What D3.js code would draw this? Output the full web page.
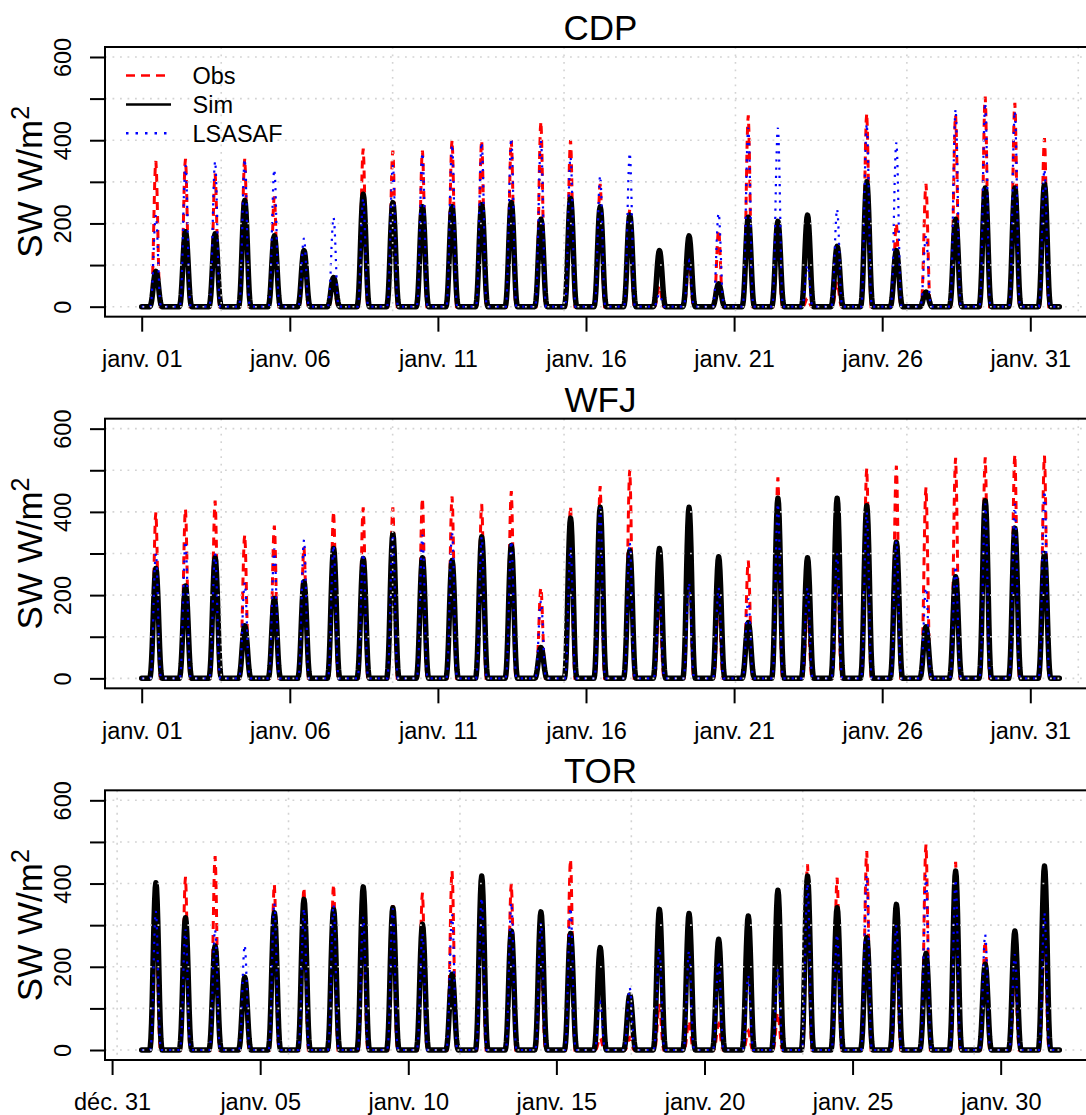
<!DOCTYPE html>
<html>
<head>
<meta charset="utf-8">
<script src="https://d3js.org/d3.v7.min.js"></script>
<style>
body { margin: 0; background: #fff; }
svg { display: block; font-family: "Liberation Sans", Arial, Helvetica, sans-serif; }
</style>
</head>
<body>
<div id="chart"></div>
<script>

// station names (one panel each)
var stations = ["CDP", "WFJ", "TOR"];

// daily peak shortwave (W/m2), janv. 01 .. janv. 31
var cdpObs = [350,355,320,355,265,130,60,380,375,375,400,400,400,445,400,295,235,50,120,185,460,200,20,60,465,200,295,460,505,490,405];
var cdpSim = [85,180,175,255,170,135,70,270,250,240,240,245,250,210,260,240,220,135,170,55,215,205,220,145,300,135,35,210,285,285,295];
var cdpLsa = [220,340,350,355,330,165,215,260,340,370,390,395,405,400,360,315,370,30,110,225,430,430,100,235,440,395,170,475,490,470,330];

var wfjObs = [399,407,427,345,367,315,401,411,411,433,437,419,450,218,413,462,501,200,380,200,283,483,180,300,505,511,459,530,531,538,535];
var wfjSim = [264,222,290,126,192,232,312,288,347,290,283,340,319,74,385,411,307,312,411,292,134,433,290,433,415,327,124,244,427,361,300];
var wfjLsa = [300,330,300,230,312,333,320,300,345,345,352,340,330,186,314,410,327,206,230,218,192,420,218,300,400,330,218,270,420,420,451];

var torObs = [320,416,466,170,398,390,398,330,348,378,430,420,400,250,458,30,30,110,70,62,46,90,446,414,478,280,494,452,262,200,310];
var torSim = [402,318,250,175,330,362,338,392,342,302,182,418,286,332,280,246,132,338,328,266,322,384,418,342,270,350,232,430,206,286,442];
var torLsa = [334,290,290,252,354,340,350,320,340,280,326,366,354,306,342,114,150,246,238,214,178,194,400,278,420,300,420,410,278,230,330];

// half-hourly diurnal shape (fraction of the daily peak), index 0 = 00:00 UTC
var simShape = [0,0,0,0,0,0,0,0,0,0,0,0,0,0,
                0.02,0.07,0.16,0.29,0.45,0.62,0.77,0.89,0.97,1,0.97,0.89,0.77,0.62,0.45,0.29,0.16,0.07,0.02,
                0,0,0,0,0,0,0,0,0,0,0,0,0,0,0];
var obsShape = [0,0,0,0,0,0,0,0,0,0,0,0,0,0,0,0,
                0.04,0.12,0.26,0.45,0.66,0.84,0.96,1,0.92,0.76,0.55,0.34,0.17,0.06,
                0,0,0,0,0,0,0,0,0,0,0,0,0,0,0,0,0,0];
var lsaShape = [0,0,0,0,0,0,0,0,0,0,0,0,0,0,0,
                0.03,0.09,0.2,0.36,0.55,0.73,0.87,0.97,1,0.95,0.83,0.66,0.46,0.27,0.12,0.04,
                0,0,0,0,0,0,0,0,0,0,0,0,0,0,0,0,0];

// x tick dates and labels
var tickDaysA = [1,6,11,16,21,26,31];
var tickLabelsA = ["janv. 01","janv. 06","janv. 11","janv. 16","janv. 21","janv. 26","janv. 31"];
var tickDaysB = [0,5,10,15,20,25,30];
var tickLabelsB = ["déc. 31","janv. 05","janv. 10","janv. 15","janv. 20","janv. 25","janv. 30"];

// vertical grid (days after janv. 01 00:00)
var gridDaysA = [2.685,8.472,14.259,20.046,25.833,31.62];
var gridDaysB = [-0.83,4.957,10.744,16.531,22.318,28.105];

var yTicks = [0,100,200,300,400,500,600];

var panels = [
  {name: stations[0], obs: cdpObs, sim: cdpSim, lsa: cdpLsa, tickDays: tickDaysA, tickLabels: tickLabelsA, grid: gridDaysA, legend: true},
  {name: stations[1], obs: wfjObs, sim: wfjSim, lsa: wfjLsa, tickDays: tickDaysA, tickLabels: tickLabelsA, grid: gridDaysA, legend: false},
  {name: stations[2], obs: torObs, sim: torSim, lsa: torLsa, tickDays: tickDaysB, tickLabels: tickLabelsB, grid: gridDaysB, legend: false}
];

var width = 1086, height = 1115;
var panelH = height / 3;
var margin = {top: 47, bottom: 55, left: 105};
var boxRight = 1096;

var DAY = 86400000, HALF = 1800000;
var t0 = Date.UTC(2009, 0, 1);
function dayDate(d) { return new Date(t0 + (d - 1) * DAY); }

var tEnd = t0 + 31 * DAY - HALF;
var pad = (tEnd - t0) * 0.04;

var x = d3.scaleUtc()
    .domain([new Date(t0 - pad), new Date(tEnd + pad)])
    .range([margin.left, boxRight]);

var svg = d3.select("#chart").append("svg")
    .attr("width", width)
    .attr("height", height);

// expand daily peaks into a half-hourly series
function series(peaks, shape) {
  var out = [];
  peaks.forEach(function(p, d) {
    shape.forEach(function(f, k) {
      out.push({t: new Date(t0 + d * DAY + k * HALF), v: p * f});
    });
  });
  return out;
}

panels.forEach(function(p, i) {
  var g = svg.append("g").attr("transform", "translate(0," + (i * panelH) + ")");
  var top = margin.top, bottom = panelH - margin.bottom;

  var y = d3.scaleLinear().domain([-24, 624]).range([bottom, top]);

  var line = d3.line()
      .x(function(d) { return x(d.t); })
      .y(function(d) { return y(d.v); });

  var clipId = "clip" + i;
  g.append("clipPath").attr("id", clipId)
    .append("rect")
      .attr("x", margin.left).attr("y", top)
      .attr("width", boxRight - margin.left).attr("height", bottom - top);

  var plot = g.append("g").attr("clip-path", "url(#" + clipId + ")");

  // Obs
  plot.append("path")
      .datum(series(p.obs, obsShape))
      .attr("d", line)
      .attr("fill", "none")
      .attr("stroke", "#ff0000")
      .attr("stroke-width", 3)
      .attr("stroke-dasharray", "8,6");

  // Sim
  plot.append("path")
      .datum(series(p.sim, simShape))
      .attr("d", line)
      .attr("fill", "none")
      .attr("stroke", "#000")
      .attr("stroke-width", 5.5)
      .attr("stroke-linejoin", "round")
      .attr("stroke-linecap", "round");

  // LSASAF
  plot.append("path")
      .datum(series(p.lsa, lsaShape))
      .attr("d", line)
      .attr("fill", "none")
      .attr("stroke", "#0000ff")
      .attr("stroke-width", 2.2)
      .attr("stroke-dasharray", "2.2,6");

  // grid on top, like R's grid()
  plot.selectAll(".hgrid")
    .data(yTicks)
    .enter().append("line")
      .attr("x1", margin.left).attr("x2", boxRight)
      .attr("y1", function(d) { return y(d); })
      .attr("y2", function(d) { return y(d); })
      .attr("stroke", "#d3d3d3")
      .attr("stroke-width", 1.6)
      .attr("stroke-dasharray", "1.8,5.7");

  plot.selectAll(".vgrid")
    .data(p.grid)
    .enter().append("line")
      .attr("x1", function(d) { return x(new Date(t0 + d * DAY)); })
      .attr("x2", function(d) { return x(new Date(t0 + d * DAY)); })
      .attr("y1", top).attr("y2", bottom)
      .attr("stroke", "#d3d3d3")
      .attr("stroke-width", 1.6)
      .attr("stroke-dasharray", "1.8,5.7");

  // box
  g.append("rect")
      .attr("x", margin.left).attr("y", top)
      .attr("width", boxRight - margin.left).attr("height", bottom - top)
      .attr("fill", "none")
      .attr("stroke", "#000")
      .attr("stroke-width", 2);

  // x axis
  var xAxis = g.append("g")
      .attr("transform", "translate(0," + bottom + ")")
      .call(d3.axisBottom(x)
        .tickValues(p.tickDays.map(dayDate))
        .tickFormat(function(d, j) { return p.tickLabels[j]; })
        .tickSize(15)
        .tickPadding(18.5));
  xAxis.select(".domain").remove();
  xAxis.selectAll("line").attr("stroke", "#000").attr("stroke-width", 2);
  xAxis.selectAll("text").attr("fill", "#000")
      .style("font-size", "23.5px")
      .style("font-family", "'Liberation Sans', Arial, sans-serif");

  // y axis
  var yAxis = g.append("g")
      .attr("transform", "translate(" + margin.left + ",0)")
      .call(d3.axisLeft(y)
        .tickValues(yTicks)
        .tickFormat(function(d) { return d % 200 === 0 ? d : ""; })
        .tickSize(15));
  yAxis.select(".domain").remove();
  yAxis.selectAll("line").attr("stroke", "#000").attr("stroke-width", 2);
  yAxis.selectAll("text")
      .attr("fill", "#000")
      .attr("transform", "rotate(-90)")
      .attr("x", 0)
      .attr("y", -34)
      .attr("dy", null)
      .attr("text-anchor", "middle")
      .style("font-size", "23.5px")
      .style("font-family", "'Liberation Sans', Arial, sans-serif");

  // y label
  var ylab = g.append("text")
      .attr("transform", "translate(41.5," + ((top + bottom) / 2) + ") rotate(-90)")
      .attr("text-anchor", "middle")
      .style("font-size", "35px");
  ylab.append("tspan").text("SW W/m");
  ylab.append("tspan").text("2").attr("dy", -13).style("font-size", "25px");

  // title
  g.append("text")
      .attr("x", (margin.left + boxRight) / 2)
      .attr("y", top - 7)
      .attr("text-anchor", "middle")
      .style("font-size", "35px")
      .text(p.name);

  // legend
  if (p.legend) {
    var items = [
      {label: "Obs", color: "#ff0000", dash: "9,6"},
      {label: "Sim", color: "#000", dash: null},
      {label: "LSASAF", color: "#0000ff", dash: "2.5,7"}
    ];
    var leg = g.selectAll(".leg")
        .data(items)
        .enter().append("g")
        .attr("transform", function(d, j) { return "translate(0," + (top + 28.5 + j * 28.9) + ")"; });
    leg.append("line")
        .attr("x1", 126).attr("x2", 171)
        .attr("stroke", function(d) { return d.color; })
        .attr("stroke-width", 2.5)
        .attr("stroke-dasharray", function(d) { return d.dash; });
    leg.append("text")
        .attr("x", 192.5)
        .attr("y", 8.5)
        .style("font-size", "23.5px")
        .text(function(d) { return d.label; });
  }
});

</script>
</body>
</html>
